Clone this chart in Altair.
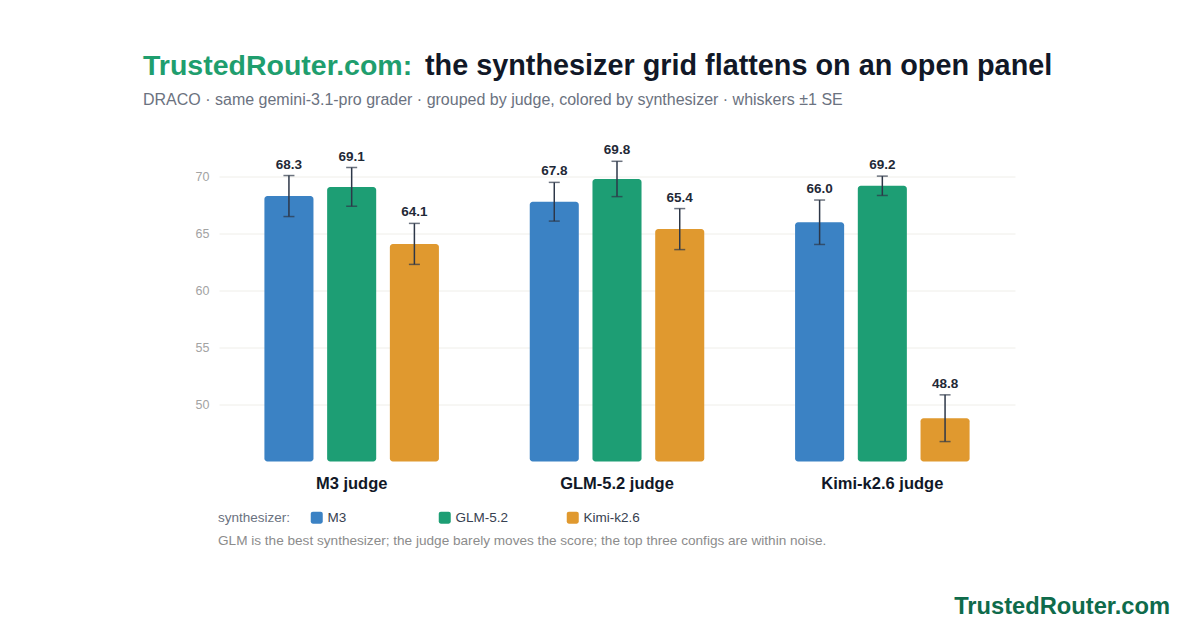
import altair as alt
import pandas as pd

judges = ["M3 judge", "GLM-5.2 judge", "Kimi-k2.6 judge"]
synths = ["M3", "GLM-5.2", "Kimi-k2.6"]
scores = [
    [68.3, 69.1, 64.1],
    [67.8, 69.8, 65.4],
    [66.0, 69.2, 48.8],
]
ses = [
    [1.8, 1.7, 1.8],
    [1.7, 1.55, 1.8],
    [1.95, 0.85, 2.05],
]
colors = ["#3b82c4", "#1d9e74", "#e0992f"]
y_ticks = [50, 55, 60, 65, 70]

title_brand = "TrustedRouter.com:"
title_rest = "the synthesizer grid flattens on an open panel"
subtitle = "DRACO · same gemini-3.1-pro grader · grouped by judge, colored by synthesizer · whiskers ±1 SE"
footnote = "GLM is the best synthesizer; the judge barely moves the score; the top three configs are within noise."
watermark = "TrustedRouter.com"

rows = []
for i, j in enumerate(judges):
    for k, s in enumerate(synths):
        v = scores[i][k]
        e = ses[i][k]
        rows.append({"judge": j, "synth": s, "score": v, "lo": v - e, "hi": v + e})
df = pd.DataFrame(rows)

FONT = "Liberation Sans"
W, H = 796, 319
PL, PT = 219, 142.5

x = alt.X("judge:N", sort=judges, title=None,
          scale=alt.Scale(paddingInner=0, paddingOuter=0),
          axis=alt.Axis(labelFont=FONT, labelFontSize=16.5, labelFontWeight="bold",
                        labelColor="#111827", labelPadding=14, ticks=False,
                        domain=False, labelAngle=0))
xo = alt.XOffset("synth:N", sort=synths,
                 scale=alt.Scale(paddingInner=0.218, paddingOuter=0.724))
yscale = alt.Scale(domain=[45, 73], nice=False, zero=False)

base = alt.Chart(df)

bars = base.mark_bar(cornerRadius=3).encode(
    x=x, xOffset=xo,
    y=alt.Y("score:Q", scale=yscale, title=None,
            axis=alt.Axis(values=y_ticks, labelFont=FONT, labelFontSize=12.5,
                          labelColor="#a3a3a3", labelPadding=10, ticks=False,
                          domain=False, gridColor="#efeee9", gridWidth=1)),
    y2=alt.Y2(datum=45),
    color=alt.Color("synth:N", sort=synths,
                    scale=alt.Scale(domain=synths, range=colors),
                    legend=alt.Legend(
                        title="synthesizer:", orient="none", direction="horizontal",
                        legendX=-1, legendY=368, titleOrient="left",
                        titleFont=FONT, titleFontSize=13.5, titleFontWeight="normal",
                        titleColor="#6b7280", titlePadding=19,
                        labelFont=FONT, labelFontSize=13.5, labelColor="#374151",
                        labelOffset=4, symbolSize=144, symbolStrokeWidth=0,
                        symbolType="M-0.65,-1H0.65Q1,-1,1,-0.65V0.65Q1,1,0.65,1H-0.65Q-1,1,-1,0.65V-0.65Q-1,-1,-0.65,-1Z",
                        symbolOpacity=1, gridAlign="all", columnPadding=54,
                        columns=3)),
)

rules = base.mark_rule(color="#2d3748", strokeWidth=1.5).encode(
    x=x, xOffset=xo, y=alt.Y("lo:Q", scale=yscale), y2="hi:Q")
cap_lo = base.mark_tick(color="#2d3748", thickness=1.5, size=11, orient="horizontal").encode(
    x=x, xOffset=xo, y=alt.Y("lo:Q", scale=yscale))
cap_hi = base.mark_tick(color="#2d3748", thickness=1.5, size=11, orient="horizontal").encode(
    x=x, xOffset=xo, y=alt.Y("hi:Q", scale=yscale))
labels = base.mark_text(font=FONT, fontSize=13.5, fontWeight="bold", color="#1f2937",
                        baseline="alphabetic", dy=-7).encode(
    x=x, xOffset=xo, y=alt.Y("hi:Q", scale=yscale),
    text=alt.Text("score:Q", format=".1f"))

one = alt.Chart(pd.DataFrame({"k": [0]}))
t1 = one.mark_text(text=title_brand, font=FONT, fontSize=28.5, fontWeight="bold",
                   color="#1f9e6e", align="left", baseline="alphabetic").encode(
    x=alt.value(143 - PL), y=alt.value(75 - PT))
t2 = one.mark_text(text=title_rest, font=FONT, fontSize=28.8, fontWeight="bold",
                   color="#111827", align="left", baseline="alphabetic").encode(
    x=alt.value(425 - PL), y=alt.value(75 - PT))
t3 = one.mark_text(text=subtitle, font=FONT, fontSize=16, color="#6b7280",
                   align="left", baseline="alphabetic").encode(
    x=alt.value(143 - PL), y=alt.value(104.5 - PT))
t4 = one.mark_text(text=footnote, font=FONT, fontSize=13.6, color="#8c8c8c",
                   align="left", baseline="alphabetic").encode(
    x=alt.value(218 - PL), y=alt.value(545 - PT))
t5 = one.mark_text(text=watermark, font=FONT, fontSize=23.7, fontWeight="bold",
                   color="#0f6b4b", align="right", baseline="alphabetic").encode(
    x=alt.value(1170 - PL), y=alt.value(614 - PT))

chart = alt.layer(bars, rules, cap_lo, cap_hi, labels, t1, t2, t3, t4, t5).properties(
    width=W, height=H,
    autosize=alt.AutoSizeParams(type="none"),
    padding={"left": PL, "top": PT, "right": 1200 - PL - W, "bottom": 630 - PT - H},
    background="white",
).configure_view(stroke=None)

chart.save("out.html", embed_options={"renderer": "svg", "actions": False})
